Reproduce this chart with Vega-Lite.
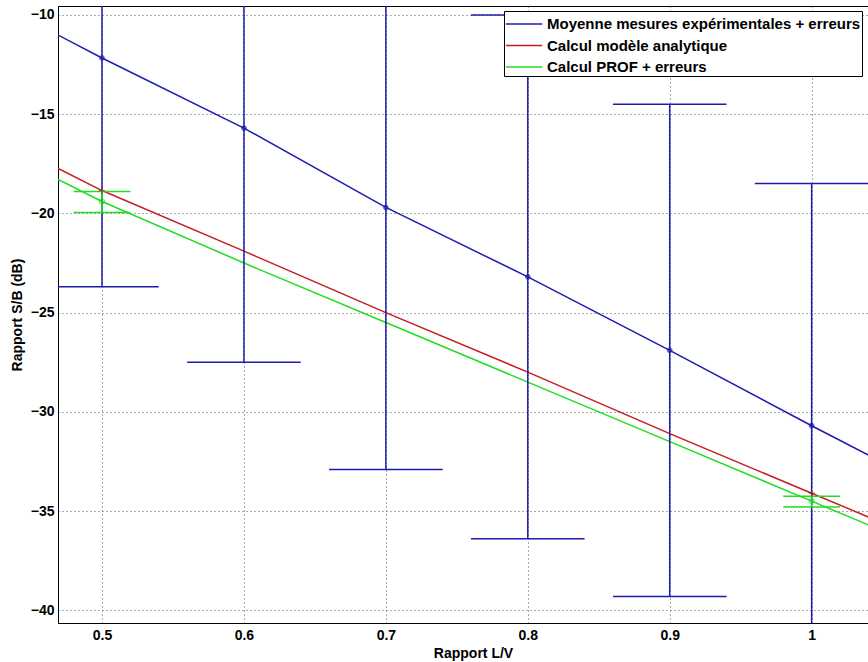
{
  "$schema": "https://vega.github.io/schema/vega-lite/v6.json",
  "width": 810,
  "height": 617,
  "autosize": {"type": "none"},
  "padding": {"left": 58, "top": 6, "right": 0, "bottom": 39},
  "background": "white",
  "config": {
    "view": {"stroke": "black", "strokeWidth": 1},
    "font": "Liberation Sans",
    "axis": {
      "labelFont": "Liberation Sans",
      "labelFontWeight": "bold",
      "labelFontSize": 14,
      "labelColor": "black",
      "titleFont": "Liberation Sans",
      "titleFontWeight": "bold",
      "titleFontSize": 14,
      "titleColor": "black",
      "domainColor": "black",
      "grid": true,
      "gridDash": [1, 3],
      "gridColor": "#555555",
      "gridWidth": 1,
      "ticks": false
    },
    "legend": {
      "orient": "none",
      "legendX": 446,
      "legendY": 5,
      "fillColor": "white",
      "strokeColor": "black",
      "padding": 1,
      "symbolType": "M-1,0L2.3,0",
      "symbolSize": 484,
      "symbolStrokeWidth": 1.5,
      "labelFont": "Liberation Sans",
      "labelFontWeight": "bold",
      "labelFontSize": 15,
      "labelColor": "black",
      "labelOffset": 18,
      "labelLimit": 500,
      "rowPadding": 1.5
    }
  },
  "datasets": {
    "lines": [
      {"series": "Moyenne mesures expérimentales + erreurs", "x": 0.45, "y": -10.3},
      {"series": "Moyenne mesures expérimentales + erreurs", "x": 0.5, "y": -12.17},
      {"series": "Moyenne mesures expérimentales + erreurs", "x": 0.6, "y": -15.7},
      {"series": "Moyenne mesures expérimentales + erreurs", "x": 0.7, "y": -19.7},
      {"series": "Moyenne mesures expérimentales + erreurs", "x": 0.8, "y": -23.2},
      {"series": "Moyenne mesures expérimentales + erreurs", "x": 0.9, "y": -26.9},
      {"series": "Moyenne mesures expérimentales + erreurs", "x": 1.0, "y": -30.7},
      {"series": "Moyenne mesures expérimentales + erreurs", "x": 1.05, "y": -32.55},
      {"series": "Calcul modèle analytique", "x": 0.45, "y": -17.05},
      {"series": "Calcul modèle analytique", "x": 0.5, "y": -18.85},
      {"series": "Calcul modèle analytique", "x": 0.6, "y": -21.9},
      {"series": "Calcul modèle analytique", "x": 0.7, "y": -25.0},
      {"series": "Calcul modèle analytique", "x": 0.8, "y": -28.0},
      {"series": "Calcul modèle analytique", "x": 0.9, "y": -31.1},
      {"series": "Calcul modèle analytique", "x": 1.0, "y": -34.1},
      {"series": "Calcul modèle analytique", "x": 1.05, "y": -35.6},
      {"series": "Calcul PROF + erreurs", "x": 0.45, "y": -17.6},
      {"series": "Calcul PROF + erreurs", "x": 0.5, "y": -19.4},
      {"series": "Calcul PROF + erreurs", "x": 0.6, "y": -22.5},
      {"series": "Calcul PROF + erreurs", "x": 0.7, "y": -25.5},
      {"series": "Calcul PROF + erreurs", "x": 0.8, "y": -28.5},
      {"series": "Calcul PROF + erreurs", "x": 0.9, "y": -31.5},
      {"series": "Calcul PROF + erreurs", "x": 1.0, "y": -34.5},
      {"series": "Calcul PROF + erreurs", "x": 1.05, "y": -36.0}
    ],
    "errors": [
      {"series": "Moyenne mesures expérimentales + erreurs", "x": 0.5, "lo": -23.7, "hi": -0.6, "xl": 0.46, "xr": 0.54},
      {"series": "Moyenne mesures expérimentales + erreurs", "x": 0.6, "lo": -27.5, "hi": -3.9, "xl": 0.56, "xr": 0.64},
      {"series": "Moyenne mesures expérimentales + erreurs", "x": 0.7, "lo": -32.9, "hi": -6.5, "xl": 0.66, "xr": 0.74},
      {"series": "Moyenne mesures expérimentales + erreurs", "x": 0.8, "lo": -36.4, "hi": -10.0, "xl": 0.76, "xr": 0.84},
      {"series": "Moyenne mesures expérimentales + erreurs", "x": 0.9, "lo": -39.3, "hi": -14.5, "xl": 0.86, "xr": 0.94},
      {"series": "Moyenne mesures expérimentales + erreurs", "x": 1.0, "lo": -42.9, "hi": -18.5, "xl": 0.96, "xr": 1.04},
      {"series": "Calcul PROF + erreurs", "x": 0.5, "lo": -19.95, "hi": -18.9, "xl": 0.48, "xr": 0.52},
      {"series": "Calcul PROF + erreurs", "x": 1.0, "lo": -34.8, "hi": -34.25, "xl": 0.98, "xr": 1.02}
    ],
    "markers": [
      {"series": "Moyenne mesures expérimentales + erreurs", "x": 0.5, "y": -12.17},
      {"series": "Moyenne mesures expérimentales + erreurs", "x": 0.6, "y": -15.7},
      {"series": "Moyenne mesures expérimentales + erreurs", "x": 0.7, "y": -19.7},
      {"series": "Moyenne mesures expérimentales + erreurs", "x": 0.8, "y": -23.2},
      {"series": "Moyenne mesures expérimentales + erreurs", "x": 0.9, "y": -26.9},
      {"series": "Moyenne mesures expérimentales + erreurs", "x": 1.0, "y": -30.7}
    ],
    "circles": [
      {"series": "Calcul PROF + erreurs", "x": 0.5, "y": -19.4},
      {"series": "Calcul PROF + erreurs", "x": 1.0, "y": -34.5}
    ],
    "plus": [
      {"series": "Calcul modèle analytique", "x": 0.5, "y": -18.85},
      {"series": "Calcul modèle analytique", "x": 1.0, "y": -34.1}
    ]
  },
  "encoding": {
    "x": {
      "field": "x", "type": "quantitative",
      "scale": {"domain": [0.469, 1.0397], "nice": false, "zero": false},
      "axis": {"values": [0.5, 0.6, 0.7, 0.8, 0.9, 1.0], "format": ".1~f", "title": "Rapport L/V", "labelPadding": 5, "titlePadding": 4, "titleX": 415}
    },
    "color": {
      "field": "series", "type": "nominal",
      "scale": {
        "domain": ["Moyenne mesures expérimentales + erreurs", "Calcul modèle analytique", "Calcul PROF + erreurs"],
        "range": ["#1c1cb0", "#c41e1e", "#22dd22"]
      },
      "legend": null
    }
  },
  "layer": [
    {
      "data": {"name": "lines"},
      "mark": {"type": "line", "clip": true, "strokeWidth": 1.5},
      "encoding": {
        "y": {
          "field": "y", "type": "quantitative",
          "scale": {"domain": [-40.64, -9.55], "nice": false, "zero": false},
          "axis": {"values": [-40, -35, -30, -25, -20, -15, -10], "format": "d", "title": "Rapport S/B (dB)", "labelPadding": 4, "titlePadding": 6}
        },
        "color": {
          "field": "series", "type": "nominal",
          "legend": {"title": null}
        }
      }
    },
    {
      "data": {"name": "errors"},
      "mark": {"type": "rule", "clip": true, "strokeWidth": 1.5},
      "encoding": {
        "y": {"field": "lo", "type": "quantitative"},
        "y2": {"field": "hi"}
      }
    },
    {
      "data": {"name": "errors"},
      "mark": {"type": "rule", "clip": true, "strokeWidth": 1.5},
      "encoding": {
        "x": {"field": "xl", "type": "quantitative"},
        "x2": {"field": "xr"},
        "y": {"field": "lo", "type": "quantitative"}
      }
    },
    {
      "data": {"name": "errors"},
      "mark": {"type": "rule", "clip": true, "strokeWidth": 1.5},
      "encoding": {
        "x": {"field": "xl", "type": "quantitative"},
        "x2": {"field": "xr"},
        "y": {"field": "hi", "type": "quantitative"}
      }
    },
    {
      "data": {"name": "markers"},
      "mark": {"type": "point", "clip": true, "filled": false, "strokeWidth": 2, "size": 30, "shape": "M-1,0L1,0M0,-1L0,1M-0.7,-0.7L0.7,0.7M-0.7,0.7L0.7,-0.7"},
      "encoding": {
        "y": {"field": "y", "type": "quantitative"}
      }
    },
    {
      "data": {"name": "circles"},
      "mark": {"type": "point", "clip": true, "filled": false, "strokeWidth": 1.2, "size": 25, "shape": "circle"},
      "encoding": {
        "y": {"field": "y", "type": "quantitative"}
      }
    },
    {
      "data": {"name": "plus"},
      "mark": {"type": "point", "clip": true, "filled": false, "strokeWidth": 1.2, "size": 40, "shape": "M-1,0L1,0M0,-1L0,1"},
      "encoding": {
        "y": {"field": "y", "type": "quantitative"}
      }
    }
  ]
}
